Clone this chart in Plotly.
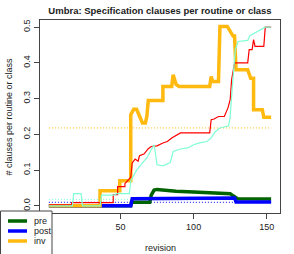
import plotly.graph_objects as go

# ---- data ----
pre_rev = [1, 57, 57.5, 70, 71, 73, 75, 88, 100, 115, 125, 127, 130, 153]
pre_val = [0, 0, 0.010, 0.010, 0.030, 0.044, 0.046, 0.041, 0.039, 0.037, 0.034, 0.028, 0.020, 0.019]

post_rev = [1, 57, 58, 70, 110, 111, 128, 129, 153]
post_val = [0, 0, 0.020, 0.020, 0.020, 0.022, 0.022, 0.011, 0.011]

inv_rev = [1, 36, 36, 49.5, 49.5, 57, 57, 59, 61, 63, 65, 67, 68, 69, 79, 79, 85, 86, 87, 88, 90,
           111, 112, 113, 117, 118, 123, 125, 127, 128, 129, 137, 139, 141, 141, 147, 148, 153]
inv_val = [0, 0, 0.042, 0.042, 0.070, 0.070, 0.255, 0.27, 0.27, 0.25, 0.232, 0.232, 0.25, 0.295,
           0.295, 0.334, 0.334, 0.367, 0.35, 0.34, 0.334, 0.334, 0.362, 0.348, 0.348, 0.502, 0.502,
           0.49, 0.475, 0.475, 0.381, 0.381, 0.357, 0.357, 0.269, 0.269, 0.248, 0.248]

routine_rev = [1, 16.5, 16.5, 45, 45, 48, 48, 53, 53, 57, 58, 60, 62, 63, 66, 69, 71, 75, 79, 82, 85, 88,
               91, 111, 112, 114, 117, 121, 122, 123.5, 125, 126, 128, 137, 138, 140, 141, 142, 148, 149, 153]
routine_val = [0.003, 0.003, 0.009, 0.009, 0.031, 0.031, 0.054, 0.054, 0.062, 0.08, 0.12, 0.131, 0.125,
               0.14, 0.145, 0.16, 0.166, 0.168, 0.176, 0.18, 0.19, 0.196, 0.204, 0.204, 0.241, 0.243,
               0.25, 0.25, 0.26, 0.274, 0.297, 0.353, 0.40, 0.40, 0.437, 0.437, 0.465, 0.446, 0.446,
               0.5, 0.5]

class_rev = [1, 17, 18, 23, 24, 36, 37, 46, 47, 56, 57, 61, 65, 68, 71, 73, 75, 79, 84, 86, 91, 96,
             100, 104, 109, 112, 115, 118, 124, 125, 126.5, 128.5, 130.5, 137, 138.5, 144, 149, 153]
class_val = [0, 0, 0.034, 0.034, 0.0, 0.0, 0.03, 0.03, 0.034, 0.034, 0.07, 0.10, 0.12, 0.134, 0.157,
             0.171, 0.115, 0.112, 0.121, 0.152, 0.159, 0.162, 0.171, 0.176, 0.18, 0.19, 0.208, 0.218,
             0.224, 0.25, 0.334, 0.437, 0.46, 0.463, 0.476, 0.488, 0.5, 0.5]

mean_rev = [1, 153]
inv_mean = 0.218
class_mean = 0.018
post_mean = 0.010

x_ticks = [50, 100, 150]
y_ticks = [0.0, 0.1, 0.2, 0.3, 0.4, 0.5]
y_tick_labels = ["0.0", "0.1", "0.2", "0.3", "0.4", "0.5"]

legend_names = ["pre", "post", "inv"]

ORANGE = "#FFB90F"
GREEN = "#006400"
BLUE = "#0000FF"
RED = "#FF0000"
AQUA = "#7FFFD4"
legend_colors = [GREEN, BLUE, ORANGE]

fig = go.Figure()

DOT = "1px,2px"
# dotted mean lines
fig.add_trace(go.Scatter(x=mean_rev, y=[class_mean] * 2, mode="lines",
                         line=dict(color=AQUA, width=1, dash=DOT), showlegend=False))
fig.add_trace(go.Scatter(x=mean_rev, y=[post_mean] * 2, mode="lines",
                         line=dict(color=BLUE, width=1, dash=DOT), showlegend=False))
fig.add_trace(go.Scatter(x=mean_rev, y=[inv_mean] * 2, mode="lines",
                         line=dict(color=ORANGE, width=1, dash=DOT), showlegend=False))

fig.add_trace(go.Scatter(x=pre_rev, y=pre_val, mode="lines", name="pre", showlegend=False,
                         line=dict(color=GREEN, width=3.5)))
fig.add_trace(go.Scatter(x=post_rev, y=post_val, mode="lines", name="post", showlegend=False,
                         line=dict(color=BLUE, width=3.5)))
fig.add_trace(go.Scatter(x=inv_rev, y=inv_val, mode="lines", name="inv", showlegend=False,
                         line=dict(color=ORANGE, width=3.5)))
fig.add_trace(go.Scatter(x=routine_rev, y=routine_val, mode="lines", showlegend=False,
                         line=dict(color=RED, width=1.2)))
fig.add_trace(go.Scatter(x=class_rev, y=class_val, mode="lines", showlegend=False,
                         line=dict(color=AQUA, width=1.2)))

# plot area in pixels
L, R, T, B = 40, 280, 20, 213
PW, PH = R - L, B - T


def px(xp):
    return (xp - L) / PW


def py(yp):
    return (B - yp) / PH


font = "Liberation Sans, Arial, sans-serif"
shapes = [dict(type="rect", xref="paper", yref="paper", x0=px(0.5), x1=px(52), y0=py(262), y1=py(211),
               line=dict(color="#444", width=1), fillcolor="white", layer="above")]
annotations = [
    dict(text="revision", xref="paper", yref="paper", x=0.5, y=py(248),
         xanchor="center", yanchor="middle", showarrow=False, font=dict(size=9)),
    dict(text="# clauses per routine or class", xref="paper", yref="paper",
         x=px(8), y=0.5, xanchor="center", yanchor="middle",
         textangle=-90, showarrow=False, font=dict(size=9)),
]
for i, (nm, col) in enumerate(zip(legend_names, legend_colors)):
    yy = 221 + 10 * i
    shapes.append(dict(type="line", xref="paper", yref="paper", x0=px(8), x1=px(27),
                       y0=py(yy), y1=py(yy), line=dict(color=col, width=3.5), layer="above"))
    annotations.append(dict(text=nm, xref="paper", yref="paper", x=px(32), y=py(yy),
                            xanchor="left", yanchor="middle", showarrow=False,
                            font=dict(size=9)))

fig.update_layout(
    width=294, height=254,
    margin=dict(l=L, r=294 - R, t=T, b=254 - B, autoexpand=False),
    paper_bgcolor="white", plot_bgcolor="white",
    showlegend=False,
    font=dict(family=font, size=9, color="#222"),
    title=dict(text="<b>Umbra: Specification clauses per routine or class</b>",
               x=160 / 294, xanchor="center", y=1 - 11 / 254, yanchor="middle",
               font=dict(size=9.5, color="#222", family=font)),
    xaxis=dict(range=[-5.08, 159.08], tickvals=x_ticks, ticks="outside", ticklen=5,
               showgrid=False, zeroline=False, showline=True, mirror=True,
               linecolor="#444", linewidth=1, tickcolor="#444"),
    yaxis=dict(range=[-0.02, 0.52], tickvals=y_ticks, ticktext=y_tick_labels, tickangle=-90,
               ticks="outside", ticklen=5, showgrid=False, zeroline=False, showline=True,
               mirror=True, linecolor="#444", linewidth=1, tickcolor="#444"),
    shapes=shapes,
    annotations=annotations,
)

fig.write_html("out.html", config={"displayModeBar": False},
               post_script="document.body.style.margin='0';document.body.style.overflow='hidden';")
